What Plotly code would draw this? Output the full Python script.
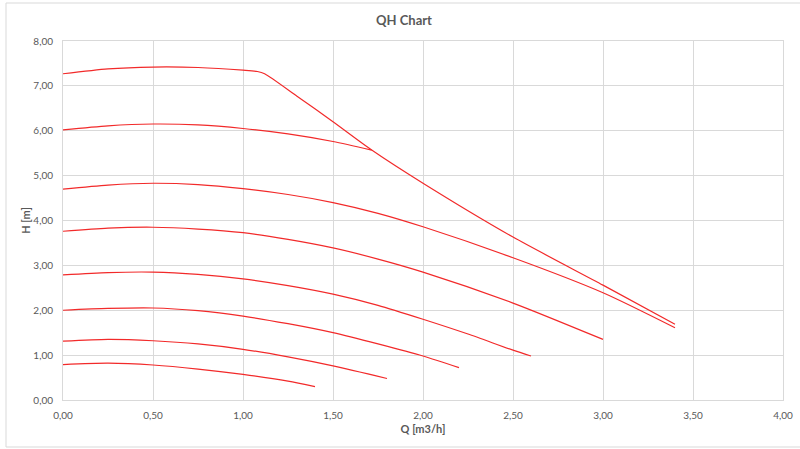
import plotly.graph_objects as go

# ---- data ----
x_ticks = [0.0, 0.5, 1.0, 1.5, 2.0, 2.5, 3.0, 3.5, 4.0]
x_tick_labels = ["0,00", "0,50", "1,00", "1,50", "2,00", "2,50", "3,00", "3,50", "4,00"]
y_ticks = [0, 1, 2, 3, 4, 5, 6, 7, 8]
y_tick_labels = ["0,00", "1,00", "2,00", "3,00", "4,00", "5,00", "6,00", "7,00", "8,00"]

q1 = [0.0, 0.25, 0.5, 0.75, 1.0, 1.08, 1.12, 1.3, 1.5, 1.715, 2.0, 2.5, 3.0, 3.4]
h1 = [7.27, 7.38, 7.42, 7.41, 7.35, 7.32, 7.27, 6.77, 6.2, 5.57, 4.83, 3.63, 2.56, 1.69]

q2 = [0.0, 0.25, 0.5, 0.75, 1.0, 1.25, 1.5, 1.715]
h2 = [6.02, 6.11, 6.15, 6.13, 6.05, 5.93, 5.76, 5.57]

q3 = [0.0, 0.25, 0.5, 0.75, 1.0, 1.25, 1.5, 1.75, 2.0, 2.5, 3.0, 3.4]
h3 = [4.70, 4.79, 4.83, 4.80, 4.71, 4.58, 4.40, 4.16, 3.86, 3.17, 2.39, 1.61]

q4 = [0.0, 0.25, 0.5, 0.75, 1.0, 1.25, 1.5, 1.75, 2.0, 2.5, 3.0]
h4 = [3.76, 3.83, 3.85, 3.81, 3.73, 3.58, 3.39, 3.14, 2.85, 2.16, 1.35]

q5 = [0.0, 0.25, 0.5, 0.75, 1.0, 1.25, 1.5, 1.75, 2.0, 2.25, 2.5, 2.6]
h5 = [2.79, 2.84, 2.85, 2.80, 2.70, 2.55, 2.36, 2.11, 1.80, 1.47, 1.11, 0.98]

q6 = [0.0, 0.25, 0.5, 0.75, 1.0, 1.25, 1.5, 1.75, 2.0, 2.2]
h6 = [2.00, 2.04, 2.05, 1.99, 1.87, 1.70, 1.50, 1.25, 0.98, 0.72]

q7 = [0.0, 0.25, 0.5, 0.75, 1.0, 1.25, 1.5, 1.8]
h7 = [1.31, 1.35, 1.32, 1.25, 1.13, 0.96, 0.76, 0.48]

q8 = [0.0, 0.25, 0.5, 0.75, 1.0, 1.25, 1.4]
h8 = [0.79, 0.82, 0.78, 0.69, 0.57, 0.42, 0.30]

curves = [(q1, h1), (q2, h2), (q3, h3), (q4, h4), (q5, h5), (q6, h6), (q7, h7), (q8, h8)]

# ---- styling ----
LINE_COLOR = "#f22a2a"
TEXT_COLOR = "#595959"
GRID_COLOR = "#d9d9d9"
FONT = "Lato, 'Open Sans', sans-serif"

fig = go.Figure()
for q, h in curves:
    fig.add_trace(go.Scatter(
        x=q, y=h, mode="lines",
        line=dict(color=LINE_COLOR, width=1.2, shape="spline", smoothing=0.7),
        showlegend=False, hoverinfo="x+y",
    ))

fig.update_layout(
    width=800, height=449,
    margin=dict(l=63, r=17, t=41, b=49, autoexpand=False),
    paper_bgcolor="white", plot_bgcolor="white",
    font=dict(family=FONT, color=TEXT_COLOR, size=10),
    title=dict(text="<b>QH Chart</b>", x=0.505, xanchor="center",
               y=1 - 20 / 449, yref="container", yanchor="middle",
               font=dict(size=13, color=TEXT_COLOR, family=FONT)),
    showlegend=False,
    shapes=[dict(type="rect", xref="paper", yref="paper",
                 x0=(6 - 63) / 720, x1=(803 - 63) / 720,
                 y0=(400 - 447) / 359, y1=(400 - 3) / 359,
                 line=dict(color=GRID_COLOR, width=1), fillcolor="rgba(0,0,0,0)",
                 layer="below")],
)

fig.update_xaxes(
    range=[0, 4], tickvals=x_ticks, ticktext=x_tick_labels,
    showgrid=True, gridcolor=GRID_COLOR, gridwidth=1,
    showline=True, linecolor=GRID_COLOR, linewidth=1, mirror=True,
    zeroline=False, ticks="", ticklabelstandoff=6,
    tickfont=dict(size=10, color=TEXT_COLOR),
    title=dict(text="<b>Q [m3/h]</b>", font=dict(size=11, color=TEXT_COLOR), standoff=5),
)
fig.update_yaxes(
    range=[0, 8], tickvals=y_ticks, ticktext=y_tick_labels,
    showgrid=True, gridcolor=GRID_COLOR, gridwidth=1,
    showline=True, linecolor=GRID_COLOR, linewidth=1, mirror=True,
    zeroline=False, ticks="", ticklabelstandoff=7,
    tickfont=dict(size=10, color=TEXT_COLOR),
    title=dict(text="<b>H [m]</b>", font=dict(size=11, color=TEXT_COLOR), standoff=0),
)

fig.write_html("out.html", config={"displayModeBar": False},
               post_script="document.body.style.margin='0px';")
